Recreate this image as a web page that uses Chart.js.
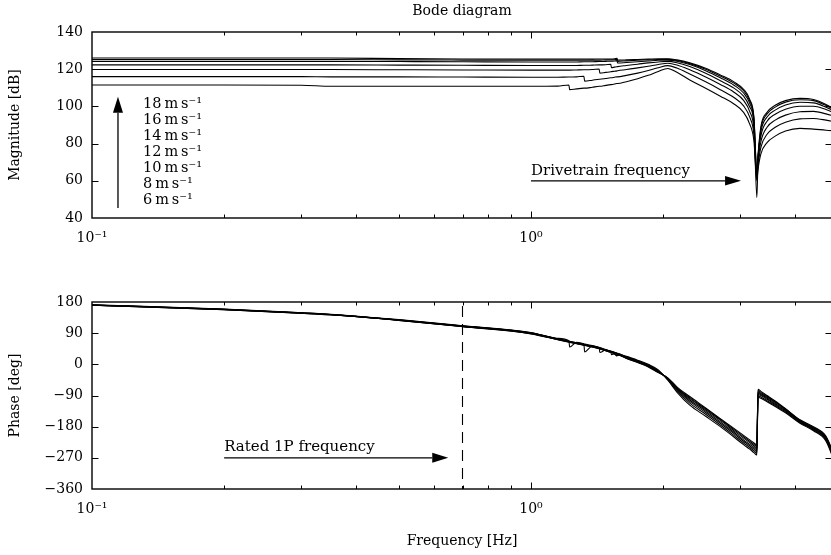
<!DOCTYPE html>
<html><head><meta charset="utf-8">
<script src="https://cdn.jsdelivr.net/npm/chart.js@4.4.1/dist/chart.umd.min.js"></script>
<style>
html,body{margin:0;padding:0;background:#fff;overflow:hidden;width:831px;height:555px;}
#wrap{position:relative;width:831px;height:555px;overflow:hidden;background:#fff;}
.box{position:absolute;left:0;}
#magBox{top:0;}
#phBox{top:260px;}
canvas{display:block;}
</style></head><body>
<div id="wrap">
<div class="box" id="magBox"><canvas id="mag" width="844" height="260"></canvas></div>
<div class="box" id="phBox"><canvas id="ph" width="844" height="295"></canvas></div>
</div>
<script>
// ---------------- data ----------------
const freqHz = [0.1, 0.2, 0.3, 0.35, 0.5, 0.7, 1.0, 1.15, 1.22, 1.225, 1.27, 1.32, 1.325, 1.38, 1.43, 1.435, 1.48, 1.52, 1.525, 1.55, 1.57, 1.575, 1.65, 1.75, 1.85, 1.95, 2.05, 2.15, 2.3, 2.5, 2.7, 2.9, 3.05, 3.15, 3.22, 3.27, 3.29, 3.34, 3.45, 3.6, 3.8, 4.1, 4.4, 4.7, 5.0];

const windSpeeds = ['6\u2009m\u2009s\u207B\u00B9', '8\u2009m\u2009s\u207B\u00B9', '10\u2009m\u2009s\u207B\u00B9', '12\u2009m\u2009s\u207B\u00B9', '14\u2009m\u2009s\u207B\u00B9', '16\u2009m\u2009s\u207B\u00B9', '18\u2009m\u2009s\u207B\u00B9'];

const magDb6  = [111.5, 111.5, 111.4, 110.8, 110.8, 110.8, 110.8, 110.9, 111.5, 109.0, 109.4, 109.8, 109.8, 110.3, 110.8, 110.8, 111.3, 111.7, 111.7, 112.0, 112.3, 112.3, 113.3, 114.9, 116.7, 118.8, 120.4, 118.3, 114.2, 109.8, 105.5, 101.3, 96.8, 90.5, 81.5, 60.0, 66.0, 74.5, 80.5, 84.0, 86.8, 88.2, 87.8, 87.2, 86.8];
const magDb8  = [116.0, 116.0, 116.0, 115.9, 115.9, 115.8, 115.7, 115.7, 115.8, 115.8, 115.9, 116.2, 113.6, 114.1, 114.6, 114.6, 115.0, 115.4, 115.4, 115.7, 115.9, 115.9, 116.7, 117.9, 119.3, 120.8, 121.9, 120.6, 117.4, 113.2, 109.0, 104.8, 100.3, 94.2, 85.0, 61.0, 68.0, 78.0, 85.0, 88.8, 91.5, 93.3, 93.5, 92.6, 91.4];
const magDb10 = [119.8, 119.8, 119.8, 119.8, 119.7, 119.6, 119.5, 119.5, 119.5, 119.5, 119.6, 119.7, 119.7, 119.8, 120.1, 117.9, 118.3, 118.6, 118.7, 118.9, 119.1, 119.2, 119.8, 120.7, 121.6, 122.5, 123.2, 122.3, 119.7, 115.8, 111.8, 107.6, 103.2, 97.2, 88.0, 62.0, 70.0, 81.0, 88.8, 92.6, 95.3, 97.1, 97.3, 96.0, 94.2];
const magDb12 = [122.3, 122.3, 122.3, 122.3, 122.2, 122.1, 122.0, 122.0, 122.0, 122.0, 122.0, 122.1, 122.1, 122.2, 122.3, 122.3, 122.4, 122.6, 120.8, 121.1, 121.3, 121.4, 122.0, 122.7, 123.4, 123.9, 124.2, 123.5, 121.4, 117.8, 113.8, 109.8, 105.5, 99.7, 90.5, 51.0, 71.0, 84.0, 92.0, 95.8, 98.5, 100.1, 100.1, 98.3, 95.8];
const magDb14 = [124.2, 124.2, 124.2, 124.2, 124.1, 124.0, 123.9, 123.9, 123.9, 123.9, 123.9, 124.0, 124.0, 124.0, 124.1, 124.1, 124.2, 124.3, 124.3, 124.4, 124.6, 123.3, 123.6, 124.0, 124.4, 124.8, 124.9, 124.3, 122.5, 119.2, 115.4, 111.4, 107.2, 101.6, 92.3, 63.0, 72.0, 86.3, 94.3, 98.0, 100.8, 102.2, 101.9, 99.6, 96.6];
const magDb16 = [125.2, 125.2, 125.2, 125.2, 125.0, 124.9, 124.8, 124.8, 124.8, 124.8, 124.8, 124.8, 124.8, 124.9, 124.9, 124.9, 125.0, 125.0, 125.0, 125.1, 125.3, 124.2, 124.5, 124.8, 125.0, 125.2, 125.3, 124.7, 123.0, 120.0, 116.3, 112.5, 108.4, 102.9, 93.5, 64.0, 73.0, 88.0, 95.9, 99.6, 102.3, 103.6, 103.1, 100.5, 97.0];
const magDb18 = [126.0, 126.0, 126.0, 126.0, 125.7, 125.5, 125.4, 125.4, 125.4, 125.4, 125.4, 125.4, 125.4, 125.4, 125.5, 125.5, 125.5, 125.5, 125.5, 125.6, 125.8, 124.9, 125.0, 125.2, 125.4, 125.6, 125.6, 125.0, 123.4, 120.5, 116.9, 113.2, 109.2, 103.8, 94.3, 65.0, 74.0, 89.2, 96.8, 100.6, 103.1, 104.3, 103.7, 101.0, 97.2];

const phaseDeg6  = [172, 159.5, 149, 144.5, 129, 111.5, 92, 75, 68, 50, 63.5, 59, 58.5, 54, 49, 48.5, 43, 38.5, 38, 35, 32.5, 32, 23, 12, 0, -16, -46, -80, -118, -150, -180, -210, -232, -245, -255, -262, -95, -98, -108, -122, -140, -170, -192, -222, -310];
const phaseDeg8  = [171.5, 159, 148.5, 144, 128.5, 111, 91, 74, 67, 66.5, 62.5, 58, 36, 53, 48, 47.5, 42, 37.5, 37, 34, 31.5, 31, 22, 10.5, -2, -18, -44, -76, -112, -144, -175, -205, -227, -240, -250, -257, -91, -94, -105, -119, -137, -168, -190, -219, -305];
const phaseDeg10 = [171.5, 159, 148.5, 144, 128, 110.5, 90.5, 73.5, 66.5, 66, 62, 57.5, 57, 52.5, 47.5, 34, 41.5, 37, 36.5, 33.5, 31, 30.5, 21, 9.5, -3, -19.5, -43, -73, -107, -139, -170, -200, -222, -235, -245, -252, -87, -90, -101, -116, -134, -166, -188, -216, -300];
const phaseDeg12 = [171, 158.5, 148, 143.5, 128, 110, 90, 73, 66, 65.5, 61.5, 57, 56.5, 52, 47, 46.5, 41, 36.5, 28, 30, 29, 28.5, 20, 8.5, -4, -20.5, -42, -71, -103, -135, -166, -196, -218, -231, -240, -247, -84, -87, -98, -113, -132, -164, -186, -214, -297];
const phaseDeg14 = [171, 158.5, 148, 143.5, 127.5, 109.5, 89, 72, 65, 64.5, 60.5, 56, 55.5, 51, 46, 45.5, 40, 35.5, 35, 30, 24, 28, 18.5, 7, -5.5, -22, -41, -69, -99, -131, -162, -192, -213, -226, -235, -242, -80, -84, -95, -110, -130, -163, -184, -212, -294];
const phaseDeg16 = [170.5, 158, 147.5, 143, 127, 109, 88.5, 71.5, 64.5, 64, 60, 55.5, 55, 50.5, 45.5, 45, 39.5, 35, 34.5, 31, 25, 27, 17.5, 6, -6.5, -23, -40, -67, -96, -128, -159, -188, -209, -222, -231, -237, -76, -81, -92, -108, -129, -161, -182, -210, -292];
const phaseDeg18 = [170.5, 158, 147.5, 143, 127, 108.5, 88, 71, 64, 63.5, 59.5, 55, 54.5, 50, 45, 44.5, 39, 34.5, 34, 31.5, 27, 28, 17, 5, -7.5, -24, -39, -65, -93, -126, -157, -185, -205, -218, -227, -233, -72, -78, -90, -106, -128, -160, -180, -208, -290];

const magSeries = [magDb6, magDb8, magDb10, magDb12, magDb14, magDb16, magDb18];
const phaseSeries = [phaseDeg6, phaseDeg8, phaseDeg10, phaseDeg12, phaseDeg14, phaseDeg16, phaseDeg18];

const xTickText = [[0.1, '10\u207B\u00B9'], [1, '10\u2070']];
const magRange = [40, 140], magStep = 20;
const phaseRange = [-360, 180], phaseStep = 90;
const freqRange = [0.1, 4.85];

// annotation anchors (data units)
const speedArrow = {freq: 0.1146, fromDb: 45.4, toDb: 105.2};
const speedLabelFreq = 0.1307;
const speedLabelDb = [50.2, 58.8, 67.4, 76.0, 84.6, 93.2, 101.8];
const drivetrain = {text: 'Drivetrain frequency', fromHz: 1.0, toHz: 3.01, db: 60};
const rated = {text: 'Rated 1P frequency', fromHz: 0.2, toHz: 0.648, deg: -270, lineHz: 0.695};

// ---------------- drawing ----------------
const FAM = '"DejaVu Serif", "Liberation Serif", serif';
const tickFont = {family: FAM, size: 14, weight: 'normal'};
const titleFont = {family: FAM, size: 14, weight: 'normal'};
const PLOT_LEFT = 92;

function drawArrow(ctx, x1, y1, x2, y2, headLen, headW) {
  const ang = Math.atan2(y2 - y1, x2 - x1);
  const bx = x2 - headLen * Math.cos(ang), by = y2 - headLen * Math.sin(ang);
  ctx.beginPath(); ctx.moveTo(x1, y1); ctx.lineTo(bx, by); ctx.stroke();
  ctx.beginPath();
  ctx.moveTo(x2, y2);
  ctx.lineTo(bx + headW / 2 * Math.sin(ang), by - headW / 2 * Math.cos(ang));
  ctx.lineTo(bx - headW / 2 * Math.sin(ang), by + headW / 2 * Math.cos(ang));
  ctx.closePath(); ctx.fill();
}

const framePlugin = {
  id: 'frame',
  afterDraw(chart) {
    const {ctx, chartArea: a, scales: {x, y}} = chart;
    ctx.save();
    ctx.strokeStyle = '#000';
    ctx.lineWidth = 1;
    ctx.beginPath();
    x.ticks.forEach(t => {
      const v = t.value;
      const e = Math.floor(Math.log10(v) + 1e-9);
      const sig = v / Math.pow(10, e);
      if (Math.abs(sig - Math.round(sig)) > 1e-6) return;
      const len = Math.abs(sig - 1) < 1e-6 ? 6.5 : 3.5;
      const px = Math.round(x.getPixelForValue(v)) + 0.5;
      if (px <= a.left + 1 || px >= a.right - 1) return;
      ctx.moveTo(px, a.bottom); ctx.lineTo(px, a.bottom - len);
      ctx.moveTo(px, a.top); ctx.lineTo(px, a.top + len);
    });
    y.ticks.forEach(t => {
      const py = Math.round(y.getPixelForValue(t.value)) + 0.5;
      if (py <= a.top + 1 || py >= a.bottom - 1) return;
      ctx.moveTo(a.left, py); ctx.lineTo(a.left + 6.5, py);
      ctx.moveTo(a.right, py); ctx.lineTo(a.right - 6.5, py);
    });
    ctx.stroke();
    ctx.lineWidth = 1.4;
    ctx.strokeRect(a.left, a.top, a.right - a.left, a.bottom - a.top);
    ctx.restore();
  }
};

const magNotes = {
  id: 'magNotes',
  afterDatasetsDraw(chart) {
    const {ctx, scales: {x, y}} = chart;
    ctx.save();
    ctx.fillStyle = '#000'; ctx.strokeStyle = '#000'; ctx.lineWidth = 1.3;
    const ax = x.getPixelForValue(speedArrow.freq);
    drawArrow(ctx, ax, y.getPixelForValue(speedArrow.fromDb), ax, y.getPixelForValue(speedArrow.toDb), 16, 10);
    ctx.font = '14.5px ' + FAM;
    ctx.textAlign = 'left'; ctx.textBaseline = 'alphabetic';
    const lx = x.getPixelForValue(speedLabelFreq);
    windSpeeds.forEach((s, i) => ctx.fillText(s, lx, y.getPixelForValue(speedLabelDb[i]) + 5));
    ctx.font = '15px ' + FAM;
    const dy = y.getPixelForValue(drivetrain.db);
    const dx1 = x.getPixelForValue(drivetrain.fromHz), dx2 = x.getPixelForValue(drivetrain.toHz);
    drawArrow(ctx, dx1, dy, dx2, dy, 16, 9.5);
    ctx.fillText(drivetrain.text, dx1, dy - 6);
    ctx.restore();
  }
};

const phaseNotes = {
  id: 'phaseNotes',
  afterDatasetsDraw(chart) {
    const {ctx, chartArea: a, scales: {x, y}} = chart;
    ctx.save();
    ctx.fillStyle = '#000'; ctx.strokeStyle = '#000';
    ctx.lineWidth = 1.1;
    ctx.setLineDash([11, 7]);
    const lx = Math.round(x.getPixelForValue(rated.lineHz)) + 0.5;
    ctx.beginPath(); ctx.moveTo(lx, a.top + 4); ctx.lineTo(lx, a.bottom); ctx.stroke();
    ctx.setLineDash([]);
    ctx.lineWidth = 1.3;
    const ry = y.getPixelForValue(rated.deg);
    const rx1 = x.getPixelForValue(rated.fromHz), rx2 = x.getPixelForValue(rated.toHz);
    drawArrow(ctx, rx1, ry, rx2, ry, 16, 10);
    ctx.font = '15px ' + FAM;
    ctx.textAlign = 'left'; ctx.textBaseline = 'alphabetic';
    ctx.fillText(rated.text, rx1, ry - 7);
    ctx.restore();
  }
};

function xTickCallback(v) {
  for (const [val, txt] of xTickText) if (Math.abs(v - val) < 1e-9) return txt;
  return '';
}
function yTickCallback(v) {
  return v < 0 ? '\u2212' + Math.abs(v) : String(v);
}

function makeDatasets(series) {
  return series.map((vals, i) => ({
    label: windSpeeds[i],
    data: freqHz.map((f, j) => ({x: f, y: vals[j]})),
    borderColor: '#000',
    borderWidth: 1.1,
    pointRadius: 0,
    fill: false,
    cubicInterpolationMode: 'monotone'
  }));
}

function baseScales(yRange, yStep, yTitle, xHeight, xTitle) {
  const xs = {
    type: 'logarithmic', min: freqRange[0], max: freqRange[1],
    afterFit: s => { s.height = xHeight; },
    grid: {display: false, drawTicks: false}, border: {display: false},
    ticks: {autoSkip: false, maxRotation: 0, minRotation: 0, padding: 12, color: '#000', font: tickFont, callback: xTickCallback}
  };
  if (xTitle) xs.title = {display: true, text: xTitle, color: '#000', font: titleFont, padding: {top: 0, bottom: 5.6}};
  return {
    x: xs,
    y: {
      min: yRange[0], max: yRange[1],
      afterFit: s => { s.width = PLOT_LEFT; },
      grid: {display: false, drawTicks: false}, border: {display: false},
      ticks: {stepSize: yStep, padding: 9, color: '#000', font: tickFont, callback: yTickCallback},
      title: {display: true, text: yTitle, color: '#000', font: titleFont, padding: {top: 6.6, bottom: 0}}
    }
  };
}

new Chart(document.getElementById('mag'), {
  type: 'line',
  data: {datasets: makeDatasets(magSeries)},
  options: {
    responsive: false, animation: false, devicePixelRatio: 1,
    layout: {padding: {left: 0, right: 0, top: 0, bottom: 0}},
    plugins: {
      legend: {display: false}, tooltip: {enabled: false},
      title: {display: true, text: 'Bode diagram', fullSize: false, color: '#000', font: titleFont, padding: {top: 3, bottom: 12.2}}
    },
    scales: baseScales(magRange, magStep, 'Magnitude [dB]', 42, null)
  },
  plugins: [magNotes, framePlugin]
});

new Chart(document.getElementById('ph'), {
  type: 'line',
  data: {datasets: makeDatasets(phaseSeries)},
  options: {
    responsive: false, animation: false, devicePixelRatio: 1,
    layout: {padding: {left: 0, right: 0, top: 42, bottom: 0}},
    plugins: {legend: {display: false}, tooltip: {enabled: false}},
    scales: baseScales(phaseRange, phaseStep, 'Phase [deg]', 66, 'Frequency [Hz]')
  },
  plugins: [phaseNotes, framePlugin]
});
</script>
</body></html>
